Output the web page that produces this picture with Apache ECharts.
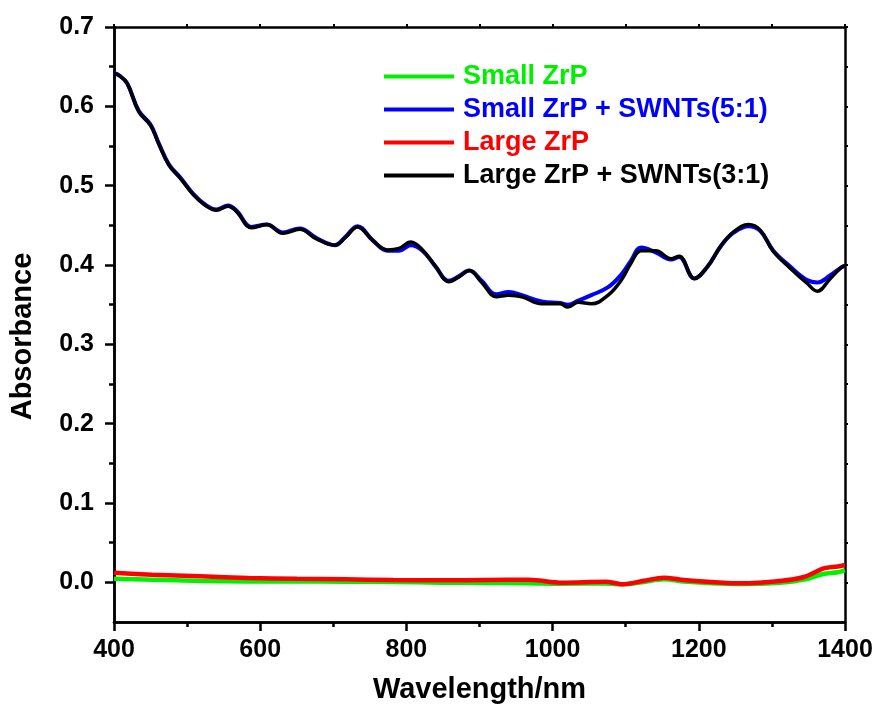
<!DOCTYPE html>
<html>
<head>
<meta charset="utf-8">
<title>Absorbance spectra</title>
<script src="https://cdn.jsdelivr.net/npm/echarts@6/dist/echarts.min.js"></script>
<style>
  html, body { margin: 0; padding: 0; background: #fff; }
  #chart { width: 878px; height: 717px; }
</style>
</head>
<body>
<div id="chart"></div>
<script>
// Wavelength grid (nm) and absorbance for the SWNT dispersions
var wlSwnt = [400, 407, 418, 434, 450, 461, 475, 491, 509, 525, 540, 556, 568, 588, 609, 631, 654, 677, 702, 717, 733, 754, 774, 790, 806, 822, 840, 858, 872, 886, 903, 923, 940, 958, 985, 1010, 1021, 1035, 1053, 1076, 1094, 1107, 1121, 1141, 1162, 1173, 1194, 1212, 1231, 1248, 1268, 1284, 1302, 1325, 1348, 1362, 1380, 1395, 1400];
var smallSwnt = [0.642, 0.639, 0.629, 0.594, 0.577, 0.554, 0.527, 0.510, 0.489, 0.476, 0.470, 0.475, 0.468, 0.448, 0.451, 0.441, 0.446, 0.434, 0.425, 0.436, 0.449, 0.431, 0.418, 0.418, 0.425, 0.418, 0.398, 0.380, 0.386, 0.393, 0.380, 0.363, 0.366, 0.362, 0.354, 0.352, 0.350, 0.355, 0.362, 0.372, 0.388, 0.405, 0.422, 0.416, 0.407, 0.410, 0.383, 0.398, 0.425, 0.441, 0.449, 0.443, 0.418, 0.398, 0.381, 0.378, 0.387, 0.397, 0.399];
var largeSwnt = [0.641, 0.639, 0.629, 0.593, 0.576, 0.553, 0.526, 0.509, 0.488, 0.475, 0.469, 0.474, 0.467, 0.447, 0.451, 0.440, 0.445, 0.433, 0.425, 0.435, 0.448, 0.431, 0.419, 0.421, 0.429, 0.419, 0.398, 0.379, 0.385, 0.393, 0.378, 0.360, 0.362, 0.360, 0.351, 0.351, 0.347, 0.353, 0.351, 0.362, 0.381, 0.402, 0.418, 0.418, 0.408, 0.411, 0.383, 0.398, 0.425, 0.442, 0.451, 0.444, 0.417, 0.396, 0.377, 0.367, 0.383, 0.397, 0.399];

// Wavelength grid (nm) and absorbance for the bare ZrP dispersions
var wlZrp = [400, 452, 518, 584, 650, 716, 782, 848, 910, 967, 1013, 1073, 1096, 1125, 1152, 1180, 1212, 1258, 1311, 1344, 1370, 1390, 1400];
var smallZrp = [0.0046, 0.0034, 0.0017, 0.0012, 0.0010, 0.0008, 0.0004, -0.0004, -0.0008, -0.0010, -0.0017, -0.0015, -0.0025, 0.0005, 0.0038, 0.0010, -0.0008, -0.0020, -0.0005, 0.0034, 0.0105, 0.0126, 0.0155];
var largeZrp = [0.0120, 0.0097, 0.0076, 0.0055, 0.0045, 0.0038, 0.0030, 0.0025, 0.0030, 0.0034, -0.0004, 0.0008, -0.0025, 0.0020, 0.0059, 0.0030, 0.0008, -0.0013, 0.0017, 0.0067, 0.0172, 0.0200, 0.0218];

var seriesNames = ['Small ZrP', 'Small ZrP + SWNTs(5:1)', 'Large ZrP', 'Large ZrP + SWNTs(3:1)'];
var seriesColors = ['#00f000', '#0000ff', '#ff0000', '#000000'];

// Axis ticks
var xMajorTicks = [400, 600, 800, 1000, 1200, 1400];
var xMinorTicks = [500, 700, 900, 1100, 1300];
var xAllTicks = [400, 500, 600, 700, 800, 900, 1000, 1100, 1200, 1300, 1400];
var yMajorTicks = [0.0, 0.1, 0.2, 0.3, 0.4, 0.5, 0.6, 0.7];
var yMinorTicks = [0.05, 0.15, 0.25, 0.35, 0.45, 0.55, 0.65];
var yAllTicks = [0.0, 0.05, 0.1, 0.15, 0.2, 0.25, 0.3, 0.35, 0.4, 0.45, 0.5, 0.55, 0.6, 0.65, 0.7];

function pairs(xs, ys) {
  return xs.map(function (x, i) { return [x, ys[i]]; });
}

var FONT = '"Liberation Sans", Arial, sans-serif';
var axisLine = { show: true, onZero: false, lineStyle: { color: '#000', width: 2.5 } };
var X_MIN = 400, X_MAX = 1400, Y_MIN = -0.05, Y_MAX = 0.7;

var chart = echarts.init(document.getElementById('chart'), null, { renderer: 'canvas' });

var option = {
  backgroundColor: '#fff',
  animation: false,
  grid: { left: 110, right: 33, top: 27, bottom: 95, containLabel: false },
  legend: {
    orient: 'vertical',
    left: 379,
    top: 58,
    itemWidth: 70,
    itemHeight: 27,
    itemGap: 6,
    icon: 'path://M0,0 L70,0 L70,4 L0,4 Z',
    textStyle: { fontFamily: FONT, fontWeight: 'bold', fontSize: 27, padding: [0, 0, 0, 4] },
    data: seriesNames.map(function (n, i) {
      return { name: n, itemStyle: { color: seriesColors[i] }, textStyle: { color: seriesColors[i] } };
    })
  },
  xAxis: [
    {
      type: 'value', position: 'bottom', min: X_MIN, max: X_MAX, interval: 100,
      name: 'Wavelength/nm', nameLocation: 'middle', nameGap: 53,
      nameTextStyle: { fontFamily: FONT, fontWeight: 'bold', fontSize: 29, color: '#000' },
      axisLine: axisLine,
      axisTick: { show: true, customValues: xMajorTicks, length: 9, lineStyle: { color: '#000', width: 2.5 } },
      axisLabel: {
        customValues: xMajorTicks, margin: 16, fontFamily: FONT, fontWeight: 'bold', fontSize: 25, color: '#000',
        formatter: function (v) { return String(v); }
      },
      splitLine: { show: false }
    },
    {
      type: 'value', position: 'bottom', min: X_MIN, max: X_MAX, interval: 100,
      axisLine: axisLine,
      axisTick: { show: true, customValues: xMinorTicks, length: 5, lineStyle: { color: '#000', width: 2.5 } },
      axisLabel: { show: false },
      splitLine: { show: false }
    },
    {
      type: 'value', position: 'top', min: X_MIN, max: X_MAX, interval: 100,
      axisLine: axisLine,
      axisTick: { show: true, customValues: xAllTicks, length: 3, lineStyle: { color: '#000', width: 2 } },
      axisLabel: { show: false },
      splitLine: { show: false }
    }
  ],
  yAxis: [
    {
      type: 'value', position: 'left', min: Y_MIN, max: Y_MAX,
      name: 'Absorbance', nameLocation: 'middle', nameGap: 77, nameRotate: 90,
      nameTextStyle: { fontFamily: FONT, fontWeight: 'bold', fontSize: 29, color: '#000', padding: [0, 24, 0, 0] },
      axisLine: axisLine,
      axisTick: { show: true, customValues: yMajorTicks, length: 9, lineStyle: { color: '#000', width: 2.5 } },
      axisLabel: {
        customValues: yMajorTicks, margin: 20, fontFamily: FONT, fontWeight: 'bold', fontSize: 25, color: '#000',
        formatter: function (v) { return v.toFixed(1); }
      },
      splitLine: { show: false }
    },
    {
      type: 'value', position: 'left', min: Y_MIN, max: Y_MAX,
      axisLine: axisLine,
      axisTick: { show: true, customValues: yMinorTicks, length: 5, lineStyle: { color: '#000', width: 2.5 } },
      axisLabel: { show: false },
      splitLine: { show: false }
    },
    {
      type: 'value', position: 'right', min: Y_MIN, max: Y_MAX,
      axisLine: axisLine,
      axisTick: { show: true, customValues: yAllTicks, length: 3, lineStyle: { color: '#000', width: 2 } },
      axisLabel: { show: false },
      splitLine: { show: false }
    }
  ],
  series: [
    { name: seriesNames[0], type: 'line', data: pairs(wlZrp, smallZrp), smooth: 0.3, symbol: 'none',
      lineStyle: { color: seriesColors[0], width: 4.5 }, itemStyle: { color: seriesColors[0] } },
    { name: seriesNames[1], type: 'line', data: pairs(wlSwnt, smallSwnt), smooth: 0.4, symbol: 'none',
      lineStyle: { color: seriesColors[1], width: 4 }, itemStyle: { color: seriesColors[1] } },
    { name: seriesNames[2], type: 'line', data: pairs(wlZrp, largeZrp), smooth: 0.3, symbol: 'none',
      lineStyle: { color: seriesColors[2], width: 4.5 }, itemStyle: { color: seriesColors[2] } },
    { name: seriesNames[3], type: 'line', data: pairs(wlSwnt, largeSwnt), smooth: 0.4, symbol: 'none',
      lineStyle: { color: seriesColors[3], width: 3.5 }, itemStyle: { color: seriesColors[3] } }
  ]
};

chart.setOption(option);
</script>
</body>
</html>
